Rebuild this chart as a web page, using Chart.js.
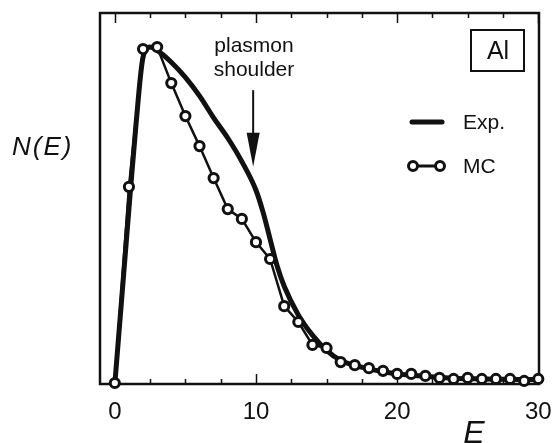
<!DOCTYPE html>
<html>
<head>
<meta charset="utf-8">
<script src="https://cdn.jsdelivr.net/npm/chart.js@4"></script>
<style>
html,body{margin:0;padding:0;background:#fff;}
canvas{display:block;}
</style>
</head>
<body>
<canvas id="c" width="553" height="443"></canvas>
<script>
// ---- data ----
const mcEnergy = [0,1,2,3,4,5,6,7,8,9,10,11,12,13,14,15,16,17,18,19,20,21,22,23,24,25,26,27,28,29,30];
const mcValues = [0.003,0.585,0.994,1.0,0.893,0.795,0.706,0.611,0.519,0.490,0.421,0.371,0.231,0.184,0.116,0.107,0.065,0.056,0.047,0.039,0.030,0.030,0.024,0.018,0.015,0.018,0.015,0.015,0.015,0.009,0.015];
const expEnergy = [0,0.5,1,1.5,2,2.5,3,4,5,6,7,8,9,10,10.5,11,11.5,12,13,14,15,16,17,18,19,20,22,24,26,28,30];
const expValues = [0,0.26,0.52,0.77,0.97,1.0,0.99,0.955,0.91,0.855,0.79,0.73,0.66,0.575,0.51,0.43,0.35,0.29,0.205,0.145,0.10,0.07,0.055,0.045,0.037,0.03,0.023,0.017,0.015,0.014,0.013];
const xTickLabels = [0,10,20,30];
const xTickMarks = [0,2.5,5,7.5,10,12.5,15,17.5,20,22.5,25,27.5,30];
const seriesNames = ['Exp.','MC'];
const arrowE = 9.8, arrowFrom = 0.872, arrowTo = 0.645;

const FONT = '"Liberation Sans", Arial, Helvetica, sans-serif';

const deco = {
  id: 'deco',
  beforeDatasetsDraw(chart) {
    const {ctx, chartArea: a, scales: {x}} = chart;
    ctx.save();
    ctx.strokeStyle = '#111';
    ctx.lineWidth = 2.5;
    ctx.strokeRect(a.left, a.top, a.right - a.left, a.bottom - a.top);
    ctx.lineWidth = 1.5;
    for (const t of xTickMarks) {
      const px = Math.round(x.getPixelForValue(t)) + 0.5;
      const len = (t % 10 === 0) ? 10 : 5;
      ctx.beginPath();
      ctx.moveTo(px, a.bottom); ctx.lineTo(px, a.bottom - len);
      ctx.moveTo(px, a.top); ctx.lineTo(px, a.top + len);
      ctx.stroke();
    }
    ctx.restore();
  },
  afterDraw(chart) {
    const {ctx, scales: {x, y}} = chart;
    ctx.save();
    ctx.fillStyle = '#111';
    ctx.strokeStyle = '#111';
    // y title
    ctx.font = 'italic 26px ' + FONT;
    ctx.textAlign = 'left'; ctx.textBaseline = 'alphabetic';
    if ('letterSpacing' in ctx) ctx.letterSpacing = '2px';
    ctx.fillText('N(E)', 12, 155);
    if ('letterSpacing' in ctx) ctx.letterSpacing = '0px';
    // x title
    ctx.font = 'italic 32px ' + FONT;
    ctx.textAlign = 'center'; ctx.textBaseline = 'alphabetic';
    ctx.fillText('E', 474, 443);
    // plasmon shoulder
    ctx.font = '21px ' + FONT;
    ctx.textAlign = 'center'; ctx.textBaseline = 'middle';
    ctx.fillText('plasmon', 254, 46);
    ctx.fillText('shoulder', 254, 70);
    // arrow
    const ax = x.getPixelForValue(arrowE);
    const y0 = y.getPixelForValue(arrowFrom), y1 = y.getPixelForValue(arrowTo);
    ctx.lineWidth = 2;
    ctx.beginPath(); ctx.moveTo(ax, y0); ctx.lineTo(ax, y1 - 30); ctx.stroke();
    ctx.beginPath();
    ctx.moveTo(ax - 6.5, y1 - 34); ctx.lineTo(ax + 6.5, y1 - 34); ctx.lineTo(ax, y1); ctx.closePath();
    ctx.fill();
    // Al box
    ctx.lineWidth = 2;
    ctx.strokeRect(471, 30, 53, 41);
    ctx.font = '25px ' + FONT;
    ctx.fillText('Al', 498, 52);
    // legend
    ctx.lineWidth = 5; ctx.lineCap = 'round';
    ctx.beginPath(); ctx.moveTo(412, 122); ctx.lineTo(442, 122); ctx.stroke();
    ctx.lineCap = 'butt';
    ctx.lineWidth = 3;
    ctx.beginPath(); ctx.moveTo(413, 166); ctx.lineTo(440, 166); ctx.stroke();
    for (const cx of [413, 440]) {
      ctx.beginPath(); ctx.arc(cx, 166, 4.5, 0, Math.PI * 2);
      ctx.fillStyle = '#fff'; ctx.fill(); ctx.stroke();
    }
    ctx.fillStyle = '#111';
    ctx.font = '21px ' + FONT;
    ctx.textAlign = 'left';
    ctx.fillText(seriesNames[0], 463, 123);
    ctx.fillText(seriesNames[1], 463, 167);
    ctx.restore();
  }
};

new Chart(document.getElementById('c'), {
  type: 'scatter',
  data: {
    datasets: [
      {
        label: seriesNames[0],
        data: expEnergy.map((e, i) => ({x: e, y: expValues[i]})),
        showLine: true,
        borderColor: '#111',
        borderWidth: 5,
        pointRadius: 0,
        cubicInterpolationMode: 'monotone',
        clip: false,
        order: 2
      },
      {
        label: seriesNames[1],
        data: mcEnergy.map((e, i) => ({x: e, y: mcValues[i]})),
        showLine: true,
        borderColor: '#111',
        borderWidth: 2.5,
        pointRadius: 4.6,
        pointBorderWidth: 3,
        pointBackgroundColor: '#fff',
        pointBorderColor: '#111',
        clip: false,
        order: 1
      }
    ]
  },
  options: {
    responsive: false,
    animation: false,
    devicePixelRatio: 1,
    layout: {padding: {top: 13, right: 0, left: 0, bottom: 0}},
    plugins: {legend: {display: false}, tooltip: {enabled: false}},
    scales: {
      x: {
        type: 'linear', min: -1.05, max: 30.05,
        afterBuildTicks(scale) { scale.ticks = xTickLabels.map(v => ({value: v})); },
        afterFit(scale) { scale.height = 59; scale.paddingRight = 14; },
        grid: {display: false, drawTicks: false},
        border: {display: false},
        ticks: {
          padding: 14, color: '#111',
          font: {family: FONT, size: 24},
          maxRotation: 0, autoSkip: false
        }
      },
      y: {
        type: 'linear', min: 0, max: 1.101,
        afterFit(scale) { scale.width = 100; },
        grid: {display: false, drawTicks: false},
        border: {display: false},
        ticks: {display: false}
      }
    }
  },
  plugins: [deco]
});
</script>
</body>
</html>
